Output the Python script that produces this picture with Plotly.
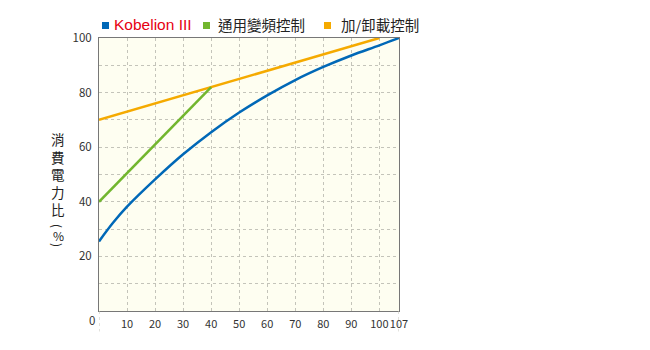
import plotly.graph_objects as go

# Data
blue_x = [0, 5, 10, 20, 30, 40, 50, 60, 70, 80, 90, 100, 107]
blue_y = [25.5, 32.3, 38.2, 48.2, 57.4, 65.5, 72.7, 79, 84.6, 89.4, 93.6, 97.3, 100]
green_x = [0, 40]
green_y = [40, 82]
orange_x = [0, 40, 100]
orange_y = [70, 82, 100]

series_names = ["Kobelion III", "通用變頻控制", "加/卸載控制"]
x_ticks = [10, 20, 30, 40, 50, 60, 70, 80, 90, 100, 107]
y_ticks = [20, 40, 60, 80, 100]
y_minor = [10, 30, 50, 70, 90]
y_title = "消<br>費<br>電<br>力<br>比"
y_unit = ["(", "%", ")"]

BLUE = "#0068B7"
GREEN = "#72B62E"
ORANGE = "#F5AA00"
RED = "#E60012"
GRID = "#C4C4BA"
CJK = "Noto Sans CJK TC"

fig = go.Figure()
fig.add_trace(go.Scatter(x=orange_x, y=orange_y, mode="lines",
                         line=dict(color=ORANGE, width=2.5), name=series_names[2]))
fig.add_trace(go.Scatter(x=green_x, y=green_y, mode="lines",
                         line=dict(color=GREEN, width=2.5), name=series_names[1]))
fig.add_trace(go.Scatter(x=blue_x, y=blue_y, mode="lines",
                         line=dict(color=BLUE, width=2.5, shape="spline", smoothing=1.0),
                         name=series_names[0]))

W, H = 650, 350
L, R, T, B = 99, 251, 38, 39
pw, ph = W - L - R, H - T - B


def px_to_paper(px, py):
    return (px - L) / pw, 1 - (py - T) / ph


fig.update_layout(
    width=W, height=H,
    margin=dict(l=L, r=R, t=T, b=B),
    paper_bgcolor="white",
    plot_bgcolor="#FEFEF1",
    showlegend=False,
    font=dict(family=CJK, size=12, color="#333"),
    xaxis=dict(range=[0, 107], tickvals=x_ticks, ticktext=[str(v) for v in x_ticks],
               tickangle=0,
               showgrid=True, gridcolor=GRID, griddash="3px,3px", gridwidth=1,
               showline=True, linecolor="#777", linewidth=1, mirror=True,
               ticks="", zeroline=False, ticklabelstandoff=3,
               tickfont=dict(family=CJK, size=11, color="#333")),
    yaxis=dict(range=[0, 100], tickvals=y_ticks,
               showgrid=True, gridcolor=GRID, griddash="3px,3px", gridwidth=1,
               minor=dict(tickvals=y_minor, showgrid=True, gridcolor=GRID,
                          griddash="3px,3px", ticks=""),
               showline=True, linecolor="#777", linewidth=1, mirror=True,
               ticks="", zeroline=False, ticklabelstandoff=4,
               tickfont=dict(family=CJK, size=11.5, color="#333")),
)

# dashed extensions below the plot at x=0 and x=107
for xv in [0, 107]:
    fig.add_shape(type="line", xref="x", yref="paper", x0=xv, x1=xv, y0=0, y1=-0.075,
                  line=dict(color=GRID, width=1, dash="3px,3px"))

# origin label
ox, oy = px_to_paper(92, 320)
fig.add_annotation(text="0", xref="paper", yref="paper", x=ox, y=oy, showarrow=False,
                   xanchor="center", yanchor="middle", font=dict(family=CJK, size=11.5, color="#333"))

# y-axis title (vertical stacked characters)
ax_, ay_ = px_to_paper(58, 174)
fig.add_annotation(text=y_title, xref="paper", yref="paper", x=ax_, y=ay_, showarrow=False,
                   xanchor="center", yanchor="middle",
                   font=dict(family=CJK, size=13.5, color="#222"))
for ch, yy, ang in zip(y_unit, [226, 235, 245], [90, 0, 90]):
    ax_, ay_ = px_to_paper(58, yy)
    fig.add_annotation(text=ch, xref="paper", yref="paper", x=ax_, y=ay_, showarrow=False,
                       xanchor="center", yanchor="middle", textangle=ang, borderpad=0,
                       font=dict(family=CJK, size=12, color="#222"))

# legend (custom)
legend_items = [
    (102, 112, BLUE, series_names[0], RED, "Liberation Sans", 15.5),
    (203, 216, GREEN, series_names[1], "#222", CJK, 14.5),
    (324, 339, ORANGE, series_names[2], "#222", CJK, 14.5),
]
for sq_x, tx, col, name, tcol, fam, fs in legend_items:
    x0, y0 = px_to_paper(sq_x, 29)
    x1, y1 = px_to_paper(sq_x + 7, 22)
    fig.add_shape(type="rect", xref="paper", yref="paper", x0=x0, x1=x1, y0=y0, y1=y1,
                  fillcolor=col, line=dict(width=0))
    ax_, ay_ = px_to_paper(tx, 25)
    fig.add_annotation(text=name, xref="paper", yref="paper", x=ax_, y=ay_, showarrow=False,
                       xanchor="left", yanchor="middle",
                       font=dict(family=fam, size=fs, color=tcol))

fig.write_html("out.html")
